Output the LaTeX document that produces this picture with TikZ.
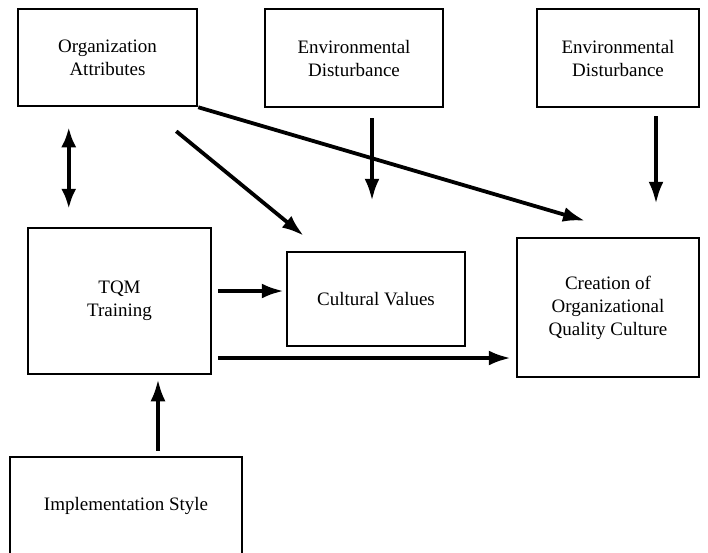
\documentclass[tikz,border=0pt]{standalone}
\usepackage{fontspec}
\setmainfont{Liberation Serif}
\usetikzlibrary{arrows.meta}

\begin{document}
\begin{tikzpicture}[x=1pt,y=-1pt]
                        \tikzstyle{box}=[draw, line width=2.5pt, align=center, inner sep=0pt,
                            font=\fontsize{19}{23}\selectfont]
                        \tikzstyle{arr}=[line width=3.8pt, -{Latex[length=22pt,width=15pt]}]
                        \tikzstyle{dblarr}=[line width=3.8pt, {Latex[length=20pt,width=15pt]}-{Latex[length=20pt,width=15pt]}]
                        \useasboundingbox (0,0) rectangle (708,552);
                        \node[box, minimum width=179pt, minimum height=97pt] (orgattr) at (107.5,57.5)
                            {Organization\\Attributes};
                        \node[box, minimum width=178pt, minimum height=98pt] (envmid) at (354,58)
                            {Environmental\\Disturbance};
                        \node[box, minimum width=162pt, minimum height=98pt] (envright) at (618,58)
                            {Environmental\\Disturbance};
                        \node[box, minimum width=183pt, minimum height=146pt] (tqm) at (119.5,301)
                            {TQM\\Training};
                        \node[box, minimum width=178pt, minimum height=94pt] (values) at (376,299)
                            {Cultural Values};
                        \node[box, minimum width=182pt, minimum height=139pt] (culture) at (608,307.5)
                            {Creation of\\Organizational\\Quality Culture};
                        \node[box, minimum width=232pt, minimum height=98pt] (style) at (126,506)
                            {Implementation Style};
                        \draw[dblarr, shorten <=20pt, shorten >=18pt]
                            ([xshift=52pt]orgattr.south west) -- ([xshift=42pt]tqm.north west);
                        \draw[arr] ([xshift=-22pt,yshift=-24pt]orgattr.south east)
                            -- ([xshift=18pt,yshift=15pt]values.north west);
                        \draw[arr] (orgattr.south east)
                            -- ([xshift=-23pt,yshift=16pt]culture.north);
                        \draw[arr, shorten <=10pt, shorten >=50pt]
                            ([xshift=18pt]envmid.south) -- ([xshift=18pt]envmid.south |- values.north);
                        \draw[arr, shorten <=8pt, shorten >=33pt]
                            ([xshift=38pt]envright.south) -- ([xshift=38pt]envright.south |- culture.north);
                        \draw[arr, shorten <=6pt, shorten >=2pt]
                            ([yshift=10pt]tqm.east) -- ([yshift=10pt]tqm.east -| values.west);
                        \draw[arr, shorten <=6pt, shorten >=5pt]
                            ([yshift=-57pt]tqm.east) -- ([yshift=-57pt]tqm.east -| culture.west);
                        \draw[arr, shorten <=5pt, shorten >=4pt]
                            ([xshift=32pt]style.north) -- ([xshift=32pt]style.north |- tqm.south);
                    \end{tikzpicture}
\end{document}
